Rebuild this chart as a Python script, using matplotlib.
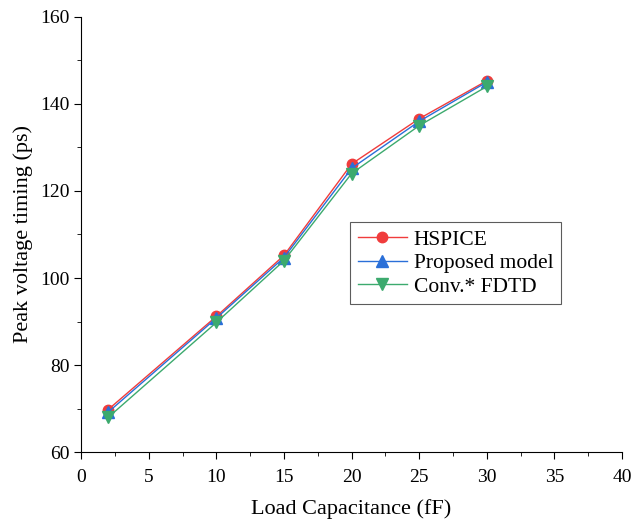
import numpy as np
import matplotlib
matplotlib.use("Agg")
from matplotlib import pyplot as plt
from matplotlib.ticker import MultipleLocator

# 부하 용량별 피크 전압 도달 시간
load_cap = [2, 10, 15, 20, 25, 30]
hspice = [69.8, 91.2, 105.2, 126.2, 136.6, 145.3]
proposed = [69.2, 90.8, 104.7, 125.2, 136.0, 145.0]
conv_fdtd = [68.0, 89.8, 104.0, 124.0, 135.0, 144.0]

plt.rcParams['font.family'] = ['Liberation Serif', 'DejaVu Serif']

fig = plt.figure(figsize=(6.44, 5.24), dpi=100)
ax = fig.add_axes([0.126, 0.137, 0.84, 0.831])

ax.plot(load_cap, hspice, color='#f03c3c', lw=1, marker='o', ms=7.5, label='HSPICE')
ax.plot(load_cap, proposed, color='#2a6fd8', lw=1, marker='^', ms=8.5, label='Proposed model')
ax.plot(load_cap, conv_fdtd, color='#3caa6e', lw=1, marker='v', ms=8.5, label='Conv.* FDTD')

ax.set_xlim(0, 40)
ax.set_ylim(60, 160)
ax.xaxis.set_major_locator(MultipleLocator(5))
ax.xaxis.set_minor_locator(MultipleLocator(2.5))
ax.yaxis.set_major_locator(MultipleLocator(20))
ax.yaxis.set_minor_locator(MultipleLocator(10))
ax.tick_params(which='major', direction='out', length=5, labelsize=14)
ax.tick_params(which='minor', direction='out', length=3)
ax.tick_params(axis='x', which='major', pad=7)
ax.spines['top'].set_visible(False)
ax.spines['right'].set_visible(False)

ax.set_xlabel('Load Capacitance (fF)', fontsize=16, labelpad=9.5)
ax.set_ylabel('Peak voltage timing (ps)', fontsize=16, labelpad=5)

leg = ax.legend(loc='lower left', bbox_to_anchor=(0.497, 0.34), frameon=True,
                fancybox=False, edgecolor='#333333', fontsize=15.5,
                handlelength=2.3, borderpad=0.35, labelspacing=0.15,
                handletextpad=0.3, borderaxespad=0.0)
leg.get_frame().set_linewidth(0.8)

fig.savefig('out.png', dpi=100)
